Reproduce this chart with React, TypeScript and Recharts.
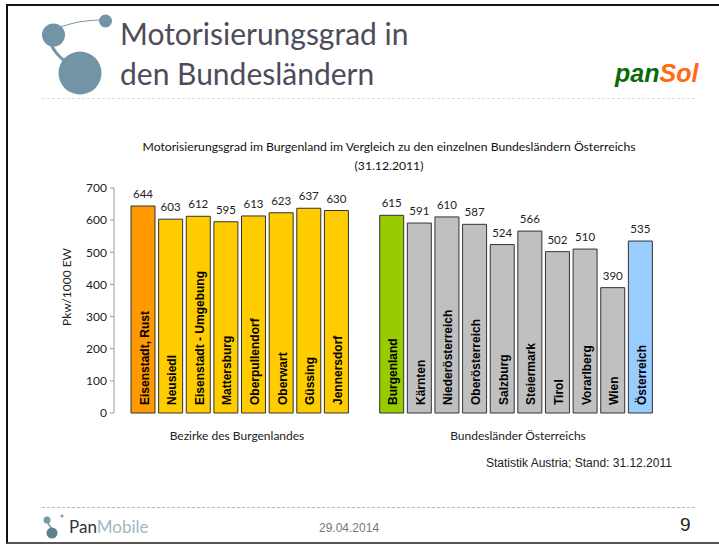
import { BarChart, Bar, XAxis, YAxis, Cell, LabelList } from 'recharts'

// blank slot separates the districts from the federal states
const categories = [
  'Eisenstadt, Rust', 'Neusiedl', 'Eisenstadt - Umgebung', 'Mattersburg', 'Oberpullendorf',
  'Oberwart', 'Güssing', 'Jennersdorf', '',
  'Burgenland', 'Kärnten', 'Niederösterreich', 'Oberösterreich', 'Salzburg',
  'Steiermark', 'Tirol', 'Vorarlberg', 'Wien', 'Österreich',
]
const values = [644, 603, 612, 595, 613, 623, 637, 630, null, 615, 591, 610, 587, 524, 566, 502, 510, 390, 535]
const barColors = [
  '#FF9900', '#FFCC00', '#FFCC00', '#FFCC00', '#FFCC00', '#FFCC00', '#FFCC00', '#FFCC00', '#ffffff',
  '#99CC00', '#C0C0C0', '#C0C0C0', '#C0C0C0', '#C0C0C0', '#C0C0C0', '#C0C0C0', '#C0C0C0', '#C0C0C0', '#99CCFF',
]
const yTicks = [0, 100, 200, 300, 400, 500, 600, 700]

const chartData = categories.map((name, i) => ({ name, value: values[i] }))

const LABEL_FONT = 'Lato, sans-serif'
const ARIAL = '"Liberation Sans", Arial, sans-serif'

function BarName(props: any) {
  const { x, y, width, height, value } = props
  if (!value) return null
  const cx = x + width / 2 + 5.5
  const bottom = y + height - 8
  return (
    <text
      x={cx}
      y={bottom}
      transform={`rotate(-90 ${cx} ${bottom})`}
      fontFamily={ARIAL}
      fontWeight="bold"
      fontSize={12}
      fill="#000"
    >
      {value}
    </text>
  )
}

function Overlay({ left, top, style, children }: any) {
  return (
    <div style={{ position: 'absolute', left, top, whiteSpace: 'nowrap', ...style }}>
      {children}
    </div>
  )
}

export default function App() {
  return (
    <div style={{ position: 'absolute', left: 0, top: 0, width: 719, height: 545, background: '#fff', overflow: 'hidden' }}>
      {/* slide frame */}
      <div style={{ position: 'absolute', left: 6, top: 4, width: 713, height: 540, borderLeft: '2px solid #111', borderTop: '2px solid #111', borderBottom: '2px solid #555', boxSizing: 'border-box' }} />

      {/* logos */}
      <svg width={719} height={545} style={{ position: 'absolute', left: 0, top: 0 }}>
        <path d="M60 27 Q80 20 100 20" stroke="#7b9aa8" strokeWidth={1.2} fill="none" />
        <path d="M51 44 Q55 54 66 62" stroke="#7295a6" strokeWidth={3} fill="none" />
        <circle cx={105.5} cy={21} r={6.5} fill="#7295a6" />
        <circle cx={53.5} cy={35} r={11.5} fill="#7295a6" />
        <circle cx={80} cy={73} r={21.5} fill="#7295a6" />
        <circle cx={47} cy={520} r={3.5} fill="#7c98a6" />
        <circle cx={62} cy={516} r={1.5} fill="#7c98a6" />
        <path d="M47 522 L52 529" stroke="#7c98a6" strokeWidth={1.5} />
        <circle cx={52} cy={533} r={5.5} fill="#60808f" />
      </svg>

      <Overlay left={120} top={13} style={{ fontFamily: LABEL_FONT, fontSize: 30, lineHeight: '40px', color: '#4c4c5c' }}>
        Motorisierungsgrad in<br />den Bundesländern
      </Overlay>

      <Overlay left={615} top={59} style={{ fontFamily: ARIAL, fontSize: 25, lineHeight: '28px', fontWeight: 'bold', fontStyle: 'italic' }}>
        <span style={{ color: '#0a6a0a' }}>pan</span><span style={{ color: '#ff6a13' }}>Sol</span>
      </Overlay>

      <div style={{ position: 'absolute', left: 42, top: 98, width: 653, borderTop: '1px dashed #d5e0e8' }} />

      <Overlay left={0} top={137} style={{ width: 778, textAlign: 'center', fontFamily: LABEL_FONT, fontSize: 12.2, lineHeight: '19px', color: '#111' }}>
        Motorisierungsgrad im Burgenland im Vergleich zu den einzelnen Bundesländern Österreichs<br />(31.12.2011)
      </Overlay>

      <div style={{ position: 'absolute', left: 0, top: 0 }}>
        <BarChart
          width={719}
          height={545}
          data={chartData}
          barCategoryGap={2}
          margin={{ top: 188, right: 50, bottom: 132, left: 64 }}
        >
          <XAxis
            dataKey="name"
            height={0}
            tick={false}
            tickLine={false}
            padding={{ left: 15, right: 15 }}
            axisLine={{ stroke: '#999' }}
          />
          <YAxis
            width={50}
            domain={[0, 700]}
            ticks={yTicks}
            interval={0}
            tickLine={{ stroke: '#999' }}
            tickSize={4}
            axisLine={{ stroke: '#999' }}
            tick={{ fontFamily: LABEL_FONT, fontSize: 12, fill: '#222' }}
            tickMargin={3}
          />
          <Bar dataKey="value" stroke="#333" strokeWidth={1} isAnimationActive={false}>
            {chartData.map((d, i) => (
              <Cell key={d.name + i} fill={barColors[i]} />
            ))}
            <LabelList dataKey="value" position="top" offset={8} fontFamily={LABEL_FONT} fontSize={11.5} fill="#222" />
            <LabelList dataKey="name" content={BarName} />
          </Bar>
        </BarChart>
      </div>

      <Overlay left={66} top={287} style={{ fontFamily: LABEL_FONT, fontSize: 12, color: '#222', transform: 'translate(-50%, -50%) rotate(-90deg)' }}>
        Pkw/1000 EW
      </Overlay>
      <Overlay left={237} top={435} style={{ fontFamily: LABEL_FONT, fontSize: 12, color: '#222', transform: 'translate(-50%, -50%)' }}>
        Bezirke des Burgenlandes
      </Overlay>
      <Overlay left={518} top={435} style={{ fontFamily: LABEL_FONT, fontSize: 12, color: '#222', transform: 'translate(-50%, -50%)' }}>
        Bundesländer Österreichs
      </Overlay>
      <Overlay left={486} top={456} style={{ fontFamily: ARIAL, fontSize: 12, color: '#222' }}>
        Statistik Austria; Stand: 31.12.2011
      </Overlay>

      {/* footer */}
      <div style={{ position: 'absolute', left: 42, top: 507, width: 653, borderTop: '1px dashed #a0c0d8' }} />
      <Overlay left={69} top={516} style={{ fontFamily: LABEL_FONT, fontSize: 17, color: '#333' }}>
        Pan<span style={{ color: '#a5b7c1' }}>Mobile</span>
      </Overlay>
      <Overlay left={319} top={521} style={{ fontFamily: ARIAL, fontSize: 12, color: '#777' }}>
        29.04.2014
      </Overlay>
      <Overlay left={680} top={514} style={{ fontFamily: ARIAL, fontSize: 19, color: '#222' }}>
        9
      </Overlay>
    </div>
  )
}
